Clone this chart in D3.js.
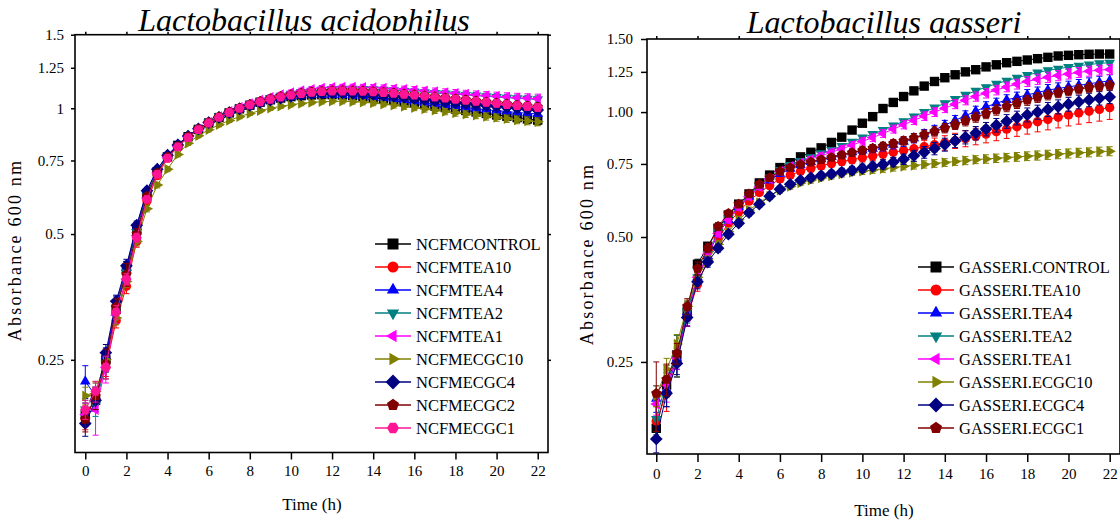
<!DOCTYPE html>
<html><head><meta charset="utf-8">
<script src="https://cdn.jsdelivr.net/npm/d3@7"></script>
<style>
html,body{margin:0;padding:0;background:#fff;}
svg{display:block;}
text{font-family:"Liberation Serif","Times New Roman",serif;fill:#000;}
</style></head><body>
<svg id="chart" width="1120" height="525"></svg>
<script>
// ---------- shared ----------
const times = [0,0.5,1,1.5,2,2.5,3,3.5,4,4.5,5,5.5,6,6.5,7,7.5,8,8.5,9,9.5,10,10.5,11,11.5,12,12.5,13,13.5,14,14.5,15,15.5,16,16.5,17,17.5,18,18.5,19,19.5,20,20.5,21,21.5,22];
const xTicks = [0,2,4,6,8,10,12,14,16,18,20,22];
const yTicks = [0.25,0.5,0.75,1,1.25,1.5];
const accYTickLabels = ["0.25","0.5","0.75","1","1.25","1.5"];
const gasYTickLabels = ["0.25","0.50","0.75","1.00","1.25","1.50"];

// ---------- Lactobacillus acidophilus ----------
const accNames = ["NCFMCONTROL","NCFMTEA10","NCFMTEA4","NCFMTEA2","NCFMTEA1","NCFMECGC10","NCFMECGC4","NCFMECGC2","NCFMECGC1"];
const accControl = [0.185,0.20,0.25,0.33,0.41,0.51,0.625,0.705,0.765,0.815,0.855,0.89,0.922,0.95,0.975,0.997,1.017,1.034,1.048,1.058,1.066,1.072,1.076,1.078,1.078,1.076,1.072,1.066,1.059,1.052,1.044,1.036,1.028,1.02,1.012,1.004,0.996,0.988,0.98,0.972,0.964,0.957,0.95,0.943,0.937];
const accTea10 = [0.18,0.205,0.24,0.31,0.375,0.48,0.60,0.69,0.76,0.808,0.852,0.89,0.922,0.95,0.976,0.998,1.018,1.035,1.05,1.063,1.073,1.081,1.087,1.091,1.093,1.093,1.091,1.088,1.084,1.079,1.074,1.068,1.062,1.056,1.05,1.045,1.04,1.035,1.03,1.025,1.02,1.015,1.01,1.005,1.0];
const accTea4 = [0.222,0.205,0.255,0.34,0.415,0.52,0.635,0.715,0.772,0.818,0.858,0.893,0.925,0.952,0.976,0.997,1.016,1.032,1.046,1.057,1.066,1.072,1.076,1.078,1.078,1.076,1.073,1.069,1.064,1.058,1.052,1.045,1.038,1.031,1.024,1.017,1.01,1.004,0.998,0.992,0.987,0.982,0.977,0.973,0.969];
const accTea2 = [0.19,0.195,0.245,0.33,0.405,0.505,0.62,0.705,0.77,0.815,0.857,0.893,0.926,0.955,0.981,1.003,1.023,1.041,1.057,1.071,1.083,1.093,1.101,1.107,1.111,1.113,1.113,1.112,1.11,1.107,1.104,1.1,1.096,1.092,1.088,1.084,1.08,1.076,1.072,1.068,1.064,1.06,1.056,1.053,1.05];
const accTea1 = [0.185,0.19,0.24,0.32,0.39,0.495,0.61,0.70,0.765,0.81,0.853,0.892,0.926,0.956,0.983,1.006,1.027,1.046,1.063,1.078,1.091,1.102,1.111,1.118,1.122,1.124,1.124,1.123,1.121,1.118,1.114,1.11,1.106,1.101,1.096,1.091,1.086,1.081,1.076,1.072,1.068,1.064,1.06,1.057,1.054];
const accEcgc10 = [0.205,0.21,0.25,0.315,0.385,0.48,0.575,0.655,0.715,0.775,0.825,0.86,0.888,0.913,0.935,0.955,0.972,0.987,1.0,1.011,1.02,1.027,1.033,1.037,1.039,1.039,1.037,1.034,1.029,1.023,1.017,1.01,1.003,0.996,0.989,0.982,0.975,0.968,0.962,0.956,0.95,0.944,0.938,0.933,0.928];
const accEcgc4 = [0.176,0.20,0.26,0.345,0.42,0.525,0.635,0.715,0.772,0.817,0.858,0.893,0.924,0.951,0.976,0.997,1.016,1.032,1.046,1.058,1.068,1.076,1.082,1.086,1.088,1.088,1.086,1.083,1.079,1.074,1.068,1.062,1.056,1.05,1.044,1.038,1.032,1.026,1.02,1.015,1.01,1.005,1.0,0.995,0.99];
const accEcgc2 = [0.18,0.205,0.245,0.335,0.40,0.50,0.615,0.70,0.765,0.812,0.855,0.892,0.925,0.954,0.98,1.002,1.022,1.039,1.054,1.067,1.078,1.087,1.094,1.099,1.102,1.103,1.102,1.1,1.097,1.093,1.088,1.083,1.078,1.072,1.066,1.06,1.054,1.048,1.042,1.036,1.03,1.024,1.018,1.013,1.008];
const accEcgc1 = [0.19,0.21,0.24,0.325,0.39,0.49,0.605,0.695,0.76,0.808,0.851,0.889,0.922,0.951,0.977,0.999,1.019,1.036,1.051,1.064,1.075,1.084,1.091,1.096,1.099,1.1,1.099,1.097,1.094,1.09,1.085,1.08,1.075,1.069,1.063,1.057,1.051,1.045,1.039,1.033,1.027,1.021,1.015,1.01,1.005];

const accControlErr = [0.012,0.012,0.015,0.015,0.02,0.018,0.015,0.012,0.01,0.01,0.01,0.01,0.01,0.01,0.01,0.011,0.011,0.012,0.012,0.012,0.013,0.013,0.014,0.014,0.015,0.015,0.016,0.016,0.017,0.017,0.018,0.018,0.019,0.019,0.02,0.02,0.021,0.021,0.022,0.022,0.023,0.023,0.024,0.024,0.025];
const accTea10Err = [0.01,0.01,0.012,0.012,0.015,0.015,0.012,0.01,0.01,0.01,0.01,0.01,0.01,0.011,0.011,0.012,0.012,0.012,0.013,0.013,0.013,0.014,0.014,0.014,0.015,0.015,0.015,0.016,0.016,0.016,0.017,0.017,0.017,0.018,0.018,0.018,0.019,0.019,0.019,0.02,0.02,0.02,0.021,0.021,0.021];
const accTea4Err = [0.02,0.01,0.012,0.015,0.015,0.012,0.012,0.01,0.01,0.01,0.01,0.01,0.01,0.01,0.011,0.011,0.012,0.012,0.013,0.013,0.014,0.014,0.015,0.015,0.016,0.016,0.017,0.017,0.018,0.018,0.019,0.019,0.02,0.02,0.021,0.021,0.022,0.022,0.023,0.023,0.024,0.024,0.025,0.025,0.026];
const accTea2Err = [0.01,0.012,0.012,0.012,0.012,0.012,0.01,0.01,0.01,0.01,0.01,0.01,0.01,0.01,0.011,0.011,0.012,0.012,0.012,0.013,0.013,0.013,0.014,0.014,0.014,0.015,0.015,0.015,0.016,0.016,0.016,0.017,0.017,0.017,0.018,0.018,0.018,0.019,0.019,0.019,0.02,0.02,0.02,0.021,0.021];
const accTea1Err = [0.012,0.025,0.02,0.015,0.012,0.012,0.012,0.01,0.01,0.01,0.01,0.01,0.011,0.011,0.012,0.012,0.013,0.013,0.014,0.014,0.015,0.015,0.016,0.016,0.017,0.017,0.018,0.018,0.019,0.019,0.02,0.02,0.021,0.021,0.022,0.022,0.023,0.023,0.024,0.024,0.025,0.025,0.026,0.026,0.027];
const accEcgc10Err = [0.01,0.012,0.012,0.012,0.012,0.012,0.01,0.01,0.01,0.01,0.01,0.01,0.01,0.01,0.01,0.011,0.011,0.011,0.012,0.012,0.012,0.013,0.013,0.013,0.014,0.014,0.014,0.015,0.015,0.015,0.016,0.016,0.016,0.017,0.017,0.017,0.018,0.018,0.018,0.019,0.019,0.019,0.02,0.02,0.02];
const accEcgc4Err = [0.012,0.01,0.012,0.012,0.015,0.012,0.01,0.01,0.01,0.01,0.01,0.01,0.01,0.01,0.011,0.011,0.011,0.012,0.012,0.012,0.013,0.013,0.013,0.014,0.014,0.014,0.015,0.015,0.015,0.016,0.016,0.016,0.017,0.017,0.017,0.018,0.018,0.018,0.019,0.019,0.019,0.02,0.02,0.02,0.021];
const accEcgc2Err = [0.012,0.015,0.02,0.015,0.025,0.015,0.012,0.01,0.01,0.01,0.01,0.01,0.01,0.01,0.011,0.011,0.011,0.012,0.012,0.012,0.013,0.013,0.013,0.014,0.014,0.014,0.015,0.015,0.015,0.016,0.016,0.016,0.017,0.017,0.017,0.018,0.018,0.018,0.019,0.019,0.019,0.02,0.02,0.02,0.021];
const accEcgc1Err = [0.01,0.012,0.015,0.012,0.012,0.012,0.01,0.01,0.01,0.01,0.01,0.01,0.01,0.01,0.011,0.011,0.011,0.012,0.012,0.012,0.013,0.013,0.013,0.014,0.014,0.014,0.015,0.015,0.015,0.016,0.016,0.016,0.017,0.017,0.017,0.018,0.018,0.018,0.019,0.019,0.019,0.02,0.02,0.02,0.021];

// ---------- Lactobacillus gasseri ----------
const gasNames = ["GASSERI.CONTROL","GASSERI.TEA10","GASSERI.TEA4","GASSERI.TEA2","GASSERI.TEA1","GASSERI.ECGC10","GASSERI.ECGC4","GASSERI.ECGC1"];
const gasControl = [0.173,0.22,0.26,0.33,0.43,0.475,0.525,0.565,0.60,0.635,0.675,0.705,0.735,0.755,0.78,0.80,0.82,0.845,0.87,0.905,0.94,0.975,1.02,1.055,1.09,1.125,1.155,1.185,1.21,1.23,1.25,1.265,1.285,1.30,1.315,1.325,1.335,1.345,1.355,1.365,1.37,1.375,1.378,1.38,1.38];
const gasTea10 = [0.18,0.21,0.25,0.32,0.385,0.44,0.495,0.54,0.575,0.61,0.64,0.665,0.69,0.705,0.72,0.732,0.742,0.752,0.76,0.768,0.776,0.784,0.792,0.80,0.808,0.816,0.825,0.834,0.843,0.853,0.863,0.874,0.885,0.897,0.91,0.922,0.935,0.948,0.96,0.972,0.984,0.995,1.005,1.015,1.025];
const gasTea4 = [0.204,0.215,0.255,0.33,0.40,0.45,0.51,0.55,0.59,0.625,0.66,0.685,0.71,0.73,0.745,0.758,0.77,0.78,0.79,0.80,0.808,0.816,0.825,0.835,0.848,0.865,0.885,0.905,0.93,0.955,0.98,1.005,1.03,1.05,1.07,1.085,1.10,1.115,1.13,1.14,1.15,1.16,1.17,1.18,1.19];
const gasTea2 = [0.182,0.225,0.26,0.33,0.40,0.455,0.515,0.555,0.595,0.63,0.665,0.695,0.725,0.745,0.762,0.778,0.795,0.81,0.828,0.848,0.868,0.885,0.905,0.928,0.95,0.975,1.0,1.025,1.05,1.075,1.10,1.125,1.148,1.17,1.19,1.21,1.228,1.245,1.26,1.272,1.283,1.293,1.302,1.31,1.315];
const gasTea1 = [0.198,0.22,0.255,0.32,0.40,0.455,0.51,0.55,0.59,0.625,0.66,0.69,0.72,0.74,0.755,0.77,0.785,0.80,0.815,0.832,0.85,0.868,0.888,0.91,0.932,0.955,0.978,1.0,1.022,1.045,1.068,1.09,1.11,1.13,1.15,1.168,1.185,1.2,1.213,1.225,1.236,1.246,1.255,1.262,1.267];
const gasEcgc10 = [0.207,0.24,0.276,0.34,0.40,0.44,0.48,0.515,0.55,0.58,0.605,0.628,0.648,0.662,0.675,0.685,0.694,0.702,0.709,0.715,0.72,0.725,0.73,0.735,0.74,0.744,0.748,0.752,0.756,0.76,0.764,0.768,0.771,0.774,0.777,0.78,0.783,0.786,0.789,0.792,0.795,0.798,0.80,0.803,0.805];
const gasEcgc4 = [0.163,0.21,0.248,0.32,0.39,0.435,0.47,0.508,0.54,0.572,0.60,0.627,0.652,0.67,0.685,0.695,0.703,0.71,0.717,0.724,0.732,0.74,0.748,0.758,0.77,0.785,0.80,0.817,0.835,0.852,0.87,0.89,0.91,0.93,0.95,0.968,0.985,1.0,1.015,1.03,1.045,1.058,1.07,1.08,1.088];
const gasEcgc1 = [0.21,0.227,0.262,0.34,0.42,0.47,0.53,0.57,0.60,0.635,0.67,0.695,0.72,0.735,0.748,0.758,0.768,0.778,0.788,0.798,0.808,0.818,0.828,0.84,0.853,0.867,0.882,0.898,0.915,0.933,0.952,0.972,0.992,1.012,1.032,1.05,1.068,1.085,1.10,1.113,1.125,1.136,1.146,1.154,1.16];

const gasControlErr = [0.01,0.012,0.03,0.012,0.012,0.01,0.008,0.008,0.008,0.008,0.006,0.006,0.006,0.006,0.006,0.006,0.006,0.006,0.006,0.006,0.006,0.006,0.006,0.006,0.006,0.006,0.006,0.006,0.006,0.006,0.006,0.006,0.006,0.006,0.006,0.006,0.006,0.006,0.006,0.006,0.006,0.006,0.006,0.006,0.006];
const gasTea10Err = [0.015,0.02,0.02,0.015,0.015,0.012,0.01,0.01,0.01,0.01,0.01,0.01,0.012,0.012,0.012,0.014,0.014,0.015,0.016,0.017,0.018,0.02,0.022,0.024,0.026,0.028,0.03,0.032,0.034,0.036,0.038,0.04,0.042,0.044,0.046,0.048,0.05,0.052,0.054,0.056,0.058,0.06,0.062,0.064,0.065];
const gasTea4Err = [0.015,0.02,0.015,0.015,0.012,0.01,0.01,0.01,0.01,0.01,0.01,0.01,0.01,0.01,0.011,0.012,0.013,0.014,0.015,0.016,0.017,0.018,0.019,0.02,0.021,0.022,0.023,0.024,0.025,0.026,0.027,0.028,0.029,0.03,0.031,0.032,0.033,0.034,0.035,0.036,0.037,0.038,0.039,0.04,0.04];
const gasTea2Err = [0.015,0.02,0.03,0.02,0.012,0.01,0.01,0.01,0.008,0.008,0.008,0.008,0.008,0.008,0.008,0.009,0.009,0.009,0.01,0.01,0.01,0.01,0.011,0.011,0.011,0.012,0.012,0.012,0.012,0.013,0.013,0.013,0.013,0.014,0.014,0.014,0.014,0.015,0.015,0.015,0.015,0.015,0.015,0.015,0.015];
const gasTea1Err = [0.012,0.02,0.015,0.015,0.012,0.01,0.01,0.01,0.01,0.01,0.01,0.01,0.01,0.01,0.011,0.012,0.013,0.014,0.015,0.016,0.017,0.018,0.019,0.02,0.021,0.022,0.023,0.024,0.025,0.026,0.027,0.028,0.029,0.03,0.031,0.032,0.033,0.034,0.035,0.035,0.035,0.035,0.035,0.035,0.035];
const gasEcgc10Err = [0.012,0.015,0.015,0.012,0.012,0.01,0.01,0.01,0.01,0.01,0.01,0.01,0.01,0.01,0.01,0.011,0.011,0.012,0.012,0.012,0.013,0.013,0.014,0.014,0.014,0.015,0.015,0.016,0.016,0.016,0.017,0.017,0.018,0.018,0.018,0.019,0.019,0.02,0.02,0.02,0.02,0.02,0.02,0.02,0.02];
const gasEcgc4Err = [0.012,0.015,0.015,0.015,0.015,0.012,0.01,0.01,0.01,0.01,0.01,0.01,0.01,0.01,0.011,0.012,0.013,0.014,0.015,0.016,0.017,0.018,0.019,0.02,0.022,0.024,0.026,0.028,0.03,0.031,0.032,0.033,0.034,0.035,0.036,0.037,0.038,0.039,0.04,0.04,0.04,0.04,0.04,0.04,0.04];
const gasEcgc1Err = [0.04,0.02,0.015,0.015,0.015,0.012,0.012,0.01,0.01,0.01,0.01,0.01,0.01,0.01,0.01,0.011,0.012,0.013,0.014,0.015,0.016,0.017,0.018,0.019,0.02,0.021,0.022,0.023,0.024,0.025,0.026,0.027,0.028,0.029,0.03,0.03,0.03,0.03,0.03,0.03,0.03,0.03,0.03,0.03,0.03];

// ---------- styles ----------
const accColors = ["#000000","#FF0000","#0000FF","#008080","#FF00FF","#808000","#000080","#800000","#FF1493"];
const accShapes = ["square","circle","triUp","triDown","triLeft","triRight","diamond","pentagon","hexagon"];
const gasColors = ["#000000","#FF0000","#0000FF","#008080","#FF00FF","#808000","#000080","#800000"];
const gasShapes = ["square","circle","triUp","triDown","triLeft","triRight","diamond","pentagon"];

function poly(n, r, startDeg){
  const pts=[];
  for(let i=0;i<n;i++){const a=(startDeg+i*360/n)*Math.PI/180;pts.push([r*Math.cos(a),r*Math.sin(a)]);}
  return "M"+pts.map(p=>p[0].toFixed(2)+","+p[1].toFixed(2)).join("L")+"Z";
}
function shapePath(type, r){
  switch(type){
    case "square": return `M${-r},${-r}h${2*r}v${2*r}h${-2*r}Z`;
    case "circle": return `M${r},0A${r},${r} 0 1,1 ${-r},0A${r},${r} 0 1,1 ${r},0Z`;
    case "triUp": return poly(3, r*1.3, -90);
    case "triDown": return poly(3, r*1.3, 90);
    case "triLeft": return poly(3, r*1.3, 180);
    case "triRight": return poly(3, r*1.3, 0);
    case "diamond": return poly(4, r*1.35, -90);
    case "pentagon": return poly(5, r*1.15, -90);
    case "hexagon": return poly(6, r*1.08, 0);
  }
}

const svg = d3.select("#chart");

function drawPanel(cfg){
  const x = d3.scaleLinear().domain([cfg.xmin, 22.5]).range(cfg.xr);
  const y = d3.scaleLog().domain([0.15, 1.5]).range(cfg.yr);
  const g = svg.append("g");

  // title (clipped at its bottom like the source)
  const clipId = "clip"+cfg.id;
  svg.append("clipPath").attr("id", clipId).append("rect").attr("x",0).attr("y",0).attr("width",1120).attr("height",cfg.titleClip);
  g.append("text").attr("clip-path",`url(#${clipId})`).attr("x",cfg.titleX).attr("y",cfg.titleY)
    .attr("text-anchor","middle").attr("font-size",32).attr("font-style","italic").text(cfg.title);

  // axes
  const ax = g.append("g").attr("transform",`translate(0,${cfg.yr[0]})`)
    .call(d3.axisBottom(x).tickValues(xTicks).tickFormat(d3.format("d")).tickSize(cfg.xTickLen).tickPadding(cfg.xTickPad));
  const ay = g.append("g").attr("transform",`translate(${cfg.xr[0]},0)`)
    .call(d3.axisLeft(y).tickValues(yTicks).tickFormat((d,i)=>cfg.yLabels[i]).tickSize(cfg.yTickLen).tickPadding(cfg.yTickPad));
  const at = g.append("g").attr("transform",`translate(0,${cfg.yr[1]})`)
    .call(d3.axisTop(x).tickValues(xTicks).tickFormat("").tickSize(3));
  const ar = g.append("g").attr("transform",`translate(${cfg.xr[1]},0)`)
    .call(d3.axisRight(y).tickValues(yTicks).tickFormat("").tickSize(3));
  [ax,ay,at,ar].forEach(a=>{a.select(".domain").remove();a.selectAll("line").attr("stroke","#000").attr("stroke-width",1.5);});
  [ax,ay].forEach(a=>a.selectAll("text").attr("font-size",15).attr("fill","#000"));

  g.append("rect").attr("x",cfg.xr[0]).attr("y",cfg.yr[1]).attr("width",cfg.xr[1]-cfg.xr[0]).attr("height",cfg.yr[0]-cfg.yr[1])
    .attr("fill","none").attr("stroke","#000").attr("stroke-width",1.6);

  // axis titles
  g.append("text").attr("transform",`translate(${cfg.yLabelX},${cfg.yLabelY}) rotate(-90)`)
    .attr("text-anchor","middle").attr("font-size",18).attr("letter-spacing","2.2px").text("Absorbance 600 nm");
  g.append("text").attr("x",cfg.xLabelX).attr("y",cfg.xLabelY).attr("text-anchor","middle").attr("font-size",17).text("Time (h)");

  // series
  const line = d3.line().x(d=>x(d.t)).y(d=>y(d.v));
  cfg.series.forEach((s,k)=>{
    const pts = times.map((t,i)=>({t, v:s.values[i], e:s.errs[i]}));
    const sg = g.append("g");
    sg.append("path").datum(pts).attr("d",line).attr("fill","none").attr("stroke",cfg.colors[k]).attr("stroke-width",1);
    const eb = sg.append("g").attr("stroke",cfg.colors[k]).attr("stroke-width",1);
    pts.forEach(p=>{
      const xx=x(p.t), y1=y(p.v+p.e), y2=y(Math.max(0.151,p.v-p.e));
      eb.append("line").attr("x1",xx).attr("x2",xx).attr("y1",y1).attr("y2",y2);
      eb.append("line").attr("x1",xx-3).attr("x2",xx+3).attr("y1",y1).attr("y2",y1);
      eb.append("line").attr("x1",xx-3).attr("x2",xx+3).attr("y1",y2).attr("y2",y2);
    });
    sg.selectAll("path.m").data(pts).join("path").attr("class","m")
      .attr("transform",d=>`translate(${x(d.t)},${y(d.v)})`)
      .attr("d",shapePath(cfg.shapes[k],4.7)).attr("fill",cfg.colors[k]);
  });

  // legend
  const lg = g.append("g");
  cfg.names.forEach((n,k)=>{
    const yy = cfg.legY + k*23;
    lg.append("line").attr("x1",cfg.legX-18).attr("x2",cfg.legX+18).attr("y1",yy).attr("y2",yy)
      .attr("stroke",cfg.colors[k]).attr("stroke-width",1.3);
    lg.append("path").attr("transform",`translate(${cfg.legX},${yy})`).attr("d",shapePath(cfg.shapes[k],5.5)).attr("fill",cfg.colors[k]);
    lg.append("text").attr("x",cfg.legX+23).attr("y",yy).attr("dy","0.35em").attr("font-size",16.5).text(n);
  });
}

drawPanel({
  id:"a", xmin:-0.5, xr:[75,548], yr:[452.5,34.7],
  title:"Lactobacillus acidophilus", titleX:304, titleY:31, titleClip:31,
  yLabels:accYTickLabels, xTickLen:7, xTickPad:6, yTickLen:4, yTickPad:7,
  yLabelX:21, yLabelY:250, xLabelX:312, xLabelY:510,
  names:accNames, colors:accColors, shapes:accShapes, legX:393, legY:244,
  series:[
    {values:accControl, errs:accControlErr},
    {values:accTea10, errs:accTea10Err},
    {values:accTea4, errs:accTea4Err},
    {values:accTea2, errs:accTea2Err},
    {values:accTea1, errs:accTea1Err},
    {values:accEcgc10, errs:accEcgc10Err},
    {values:accEcgc4, errs:accEcgc4Err},
    {values:accEcgc2, errs:accEcgc2Err},
    {values:accEcgc1, errs:accEcgc1Err}
  ]
});

drawPanel({
  id:"g", xmin:-0.45, xr:[647,1120], yr:[454,39],
  title:"Lactobacillus gasseri", titleX:884, titleY:33, titleClip:33,
  yLabels:gasYTickLabels, xTickLen:8, xTickPad:6, yTickLen:6, yTickPad:8,
  yLabelX:593, yLabelY:254, xLabelX:884, xLabelY:516,
  names:gasNames, colors:gasColors, shapes:gasShapes, legX:936, legY:267,
  series:[
    {values:gasControl, errs:gasControlErr},
    {values:gasTea10, errs:gasTea10Err},
    {values:gasTea4, errs:gasTea4Err},
    {values:gasTea2, errs:gasTea2Err},
    {values:gasTea1, errs:gasTea1Err},
    {values:gasEcgc10, errs:gasEcgc10Err},
    {values:gasEcgc4, errs:gasEcgc4Err},
    {values:gasEcgc1, errs:gasEcgc1Err}
  ]
});
</script>
</body></html>
